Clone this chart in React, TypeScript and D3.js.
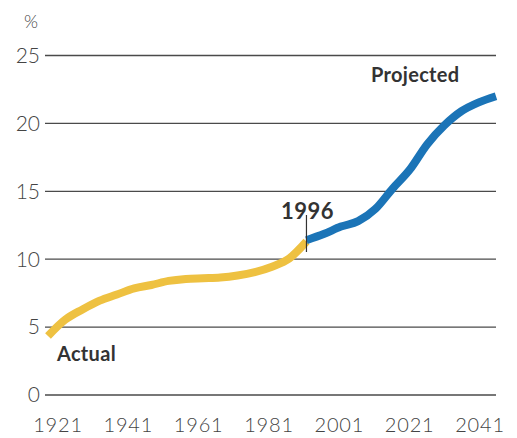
import React from "react";
import * as d3 from "d3";

const actualYears = [1921, 1926, 1931, 1936, 1941, 1946, 1951, 1956, 1961, 1966, 1971, 1976, 1981, 1986, 1991, 1996];
const actualValues = [4.35, 5.55, 6.3, 6.95, 7.4, 7.85, 8.1, 8.4, 8.55, 8.6, 8.65, 8.8, 9.05, 9.45, 10.05, 11.3];
const projectedYears = [1996, 2001, 2006, 2011, 2016, 2021, 2026, 2031, 2036, 2041, 2046, 2051];
const projectedValues = [11.4, 11.85, 12.4, 12.8, 13.7, 15.2, 16.6, 18.45, 19.85, 20.9, 21.55, 22.0];
const yTicks = [0, 5, 10, 15, 20, 25];
const xTickLabels = ["1921", "1941", "1961", "1981", "2001", "2021", "2041"];
const markerYear = 1996;

const W = 517;
const H = 438;
const FONT = "Lato, 'Open Sans', 'DejaVu Sans', sans-serif";

export default function App() {
  const x = d3.scaleLinear().domain([1921, 2051]).range([48, 496]);
  const xLabel = d3.scaleLinear().domain([1921, 2041]).range([58, 480]);
  const y = d3.scaleLinear().domain([0, 25]).range([395, 55.5]);

  const line = d3
    .line<[number, number]>()
    .x((d) => x(d[0]))
    .y((d) => y(d[1]))
    .curve(d3.curveMonotoneX);

  const actual = actualYears.map((yr, i) => [yr, actualValues[i]] as [number, number]);
  const projected = projectedYears.map((yr, i) => [yr, projectedValues[i]] as [number, number]);

  return (
    <svg
      width={W}
      height={H}
      style={{ position: "absolute", left: 0, top: 0, background: "#fff" }}
      fontFamily={FONT}
    >
      <rect width={W} height={H} fill="#fff" />
      <text x={31} y={28} fontSize={18} fontWeight={300} fill="#444" textAnchor="middle">%</text>
      {yTicks.map((t) => (
        <g key={t}>
          <line x1={45} x2={496} y1={y(t)} y2={y(t)} stroke="#4a4a4a" strokeWidth={1.3} />
          <text x={40} y={y(t)} dy="0.35em" fontSize={21} fontWeight={300} fill="#444" textAnchor="end">
            {t}
          </text>
        </g>
      ))}
      {xTickLabels.map((l) => (
        <text key={l} x={xLabel(+l)} y={432} fontSize={20} fontWeight={300} fill="#444" textAnchor="middle" letterSpacing={0.8}>
          {l}
        </text>
      ))}
      <path d={line(actual) || ""} fill="none" stroke="#EEC141" strokeWidth={8} />
      <path d={line(projected) || ""} fill="none" stroke="#1B74B7" strokeWidth={8} />
      <line x1={x(markerYear)} x2={x(markerYear)} y1={215} y2={252} stroke="#333" strokeWidth={1.2} />
      <text x={x(markerYear) + 1} y={219} fontSize={22} fontWeight="bold" fill="#333" textAnchor="middle" letterSpacing={0.5}>
        1996
      </text>
      <text x={371} y={82} fontSize={20} fontWeight="bold" fill="#333" letterSpacing={0.3}>
        Projected
      </text>
      <text x={57} y={361} fontSize={20} fontWeight="bold" fill="#333" letterSpacing={0.3}>
        Actual
      </text>
    </svg>
  );
}
